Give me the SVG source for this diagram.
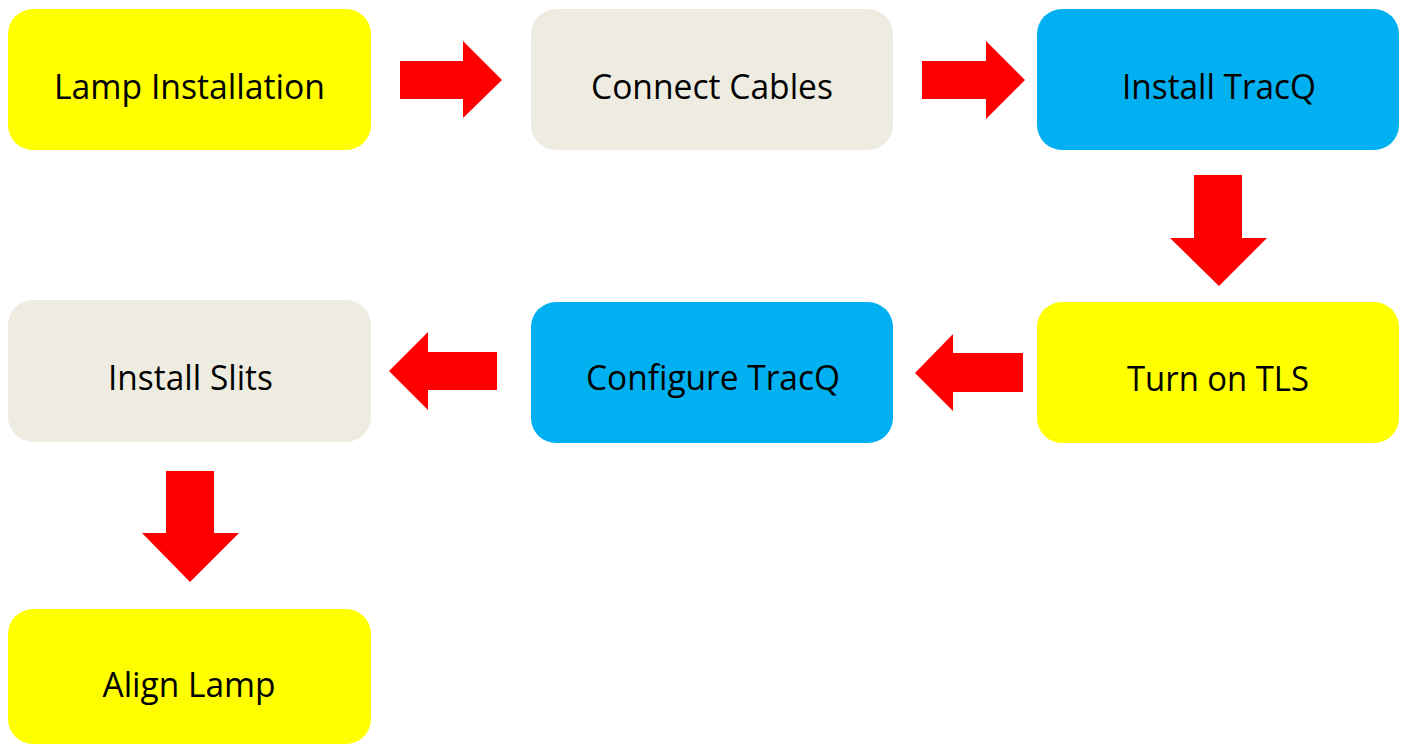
<svg xmlns="http://www.w3.org/2000/svg" width="1406" height="745" viewBox="0 0 1406 745">
<style>
.box{stroke:none}
.y{fill:#FFFF00}
.g{fill:#EEECE1}
.b{fill:#00B0F0}
.lbl{font-family:"Open Sans","Liberation Sans",sans-serif;font-size:34px;fill:#000;text-anchor:middle}
.arr{fill:#FF0000}
</style>
<rect width="1406" height="745" fill="#fff"/>
<g id="lamp-installation"><rect class="box y" x="8" y="9" width="363" height="141" rx="25"/><text class="lbl" x="189.5" y="99" textLength="271" lengthAdjust="spacingAndGlyphs">Lamp Installation</text></g>
<g id="connect-cables"><rect class="box g" x="531" y="9" width="362" height="141" rx="25"/><text class="lbl" x="712" y="99" textLength="242" lengthAdjust="spacingAndGlyphs">Connect Cables</text></g>
<g id="install-tracq"><rect class="box b" x="1037" y="9" width="362" height="141" rx="25"/><text class="lbl" x="1219" y="99" textLength="194" lengthAdjust="spacingAndGlyphs">Install TracQ</text></g>
<g id="turn-on-tls"><rect class="box y" x="1037" y="302" width="362" height="141" rx="25"/><text class="lbl" x="1218" y="391" textLength="182" lengthAdjust="spacingAndGlyphs">Turn on TLS</text></g>
<g id="configure-tracq"><rect class="box b" x="531" y="302" width="362" height="141" rx="25"/><text class="lbl" x="713" y="390" textLength="254" lengthAdjust="spacingAndGlyphs">Configure TracQ</text></g>
<g id="install-slits"><rect class="box g" x="8" y="300" width="363" height="142" rx="25"/><text class="lbl" x="190.5" y="390" textLength="165" lengthAdjust="spacingAndGlyphs">Install Slits</text></g>
<g id="align-lamp"><rect class="box y" x="8" y="609" width="363" height="135" rx="25"/><text class="lbl" x="189" y="697" textLength="173" lengthAdjust="spacingAndGlyphs">Align Lamp</text></g>
<g id="connectors">
<polygon class="arr" points="400,61 463,61 463,41 502,80 463,118 463,99 400,99"/>
<polygon class="arr" points="922,61 986,61 986,41 1025,80 986,119 986,99 922,99"/>
<polygon class="arr" points="1194,175 1242,175 1242,238 1267,238 1219,286 1170,238 1194,238"/>
<polygon class="arr" points="1023,353 953,353 953,334 915,373 953,411 953,392 1023,392"/>
<polygon class="arr" points="497,352 428,352 428,332 389,371 428,410 428,390 497,390"/>
<polygon class="arr" points="166,471 214,471 214,533 239,533 190,582 142,533 166,533"/>
</g>
</svg>
